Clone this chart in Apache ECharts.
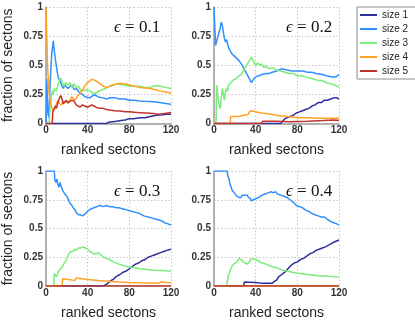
<!DOCTYPE html>
<html>
<head>
<meta charset="utf-8">
<script src="https://cdn.jsdelivr.net/npm/echarts@6/dist/echarts.min.js"></script>
<style>
  html, body { margin: 0; padding: 0; background: #fff; }
  #chart { width: 415px; height: 321px; }
</style>
</head>
<body>
<div id="chart"></div>
<script>
// legend names and colours
const sizeNames = ['size 1', 'size 2', 'size 3', 'size 4', 'size 5']
const sizeColors = ['#2c2f9e', '#3090ff', '#7aec7a', '#ffa226', '#c0342c']
const panelTitles = ['0.1', '0.2', '0.3', '0.4']
const xTicks = [0, 40, 80, 120]
const yTicks = [0, 0.25, 0.5, 0.75, 1]

// epsilon = 0.1  ([ranked secton, fraction])
const eps01Size1 = [[0, 0], [58, 0], [60, 0.01], [64, 0.015], [68, 0.02], [72, 0.025], [76, 0.03], [79, 0.04], [84, 0.04], [90, 0.05], [95, 0.05], [100, 0.06], [106, 0.07], [112, 0.075], [116, 0.08], [120, 0.08]]
const eps01Size2 = [[0, 0], [0.8, 0.38], [1.6, 0.1], [2.6, 0.05], [4, 0.35], [5.5, 0.6], [7, 0.71], [8, 0.62], [9, 0.55], [10, 0.49], [11, 0.43], [12, 0.39], [13.4, 0.37], [15, 0.33], [16.6, 0.3], [18, 0.33], [21, 0.3], [23, 0.32], [25, 0.33], [27, 0.29], [29, 0.3], [32.6, 0.26], [35, 0.25], [37.4, 0.23], [42, 0.22], [45, 0.24], [47, 0.245], [51, 0.225], [55, 0.22], [58, 0.21], [61, 0.22], [66, 0.22], [71, 0.21], [76, 0.21], [80, 0.2], [85, 0.2], [90, 0.193], [95, 0.19], [100, 0.188], [105, 0.185], [109, 0.18], [115, 0.172], [120, 0.165]]
const eps01Size3 = [[0, 0], [3, 0], [4, 0.15], [5, 0.22], [6, 0.28], [7, 0.25], [8, 0.3], [10, 0.28], [12, 0.35], [14, 0.39], [15, 0.38], [17, 0.32], [19, 0.35], [21, 0.33], [23, 0.35], [25, 0.31], [27, 0.34], [29, 0.31], [31, 0.32], [33, 0.29], [36, 0.28], [39, 0.29], [42, 0.28], [45, 0.26], [48, 0.26], [51, 0.28], [54, 0.29], [57, 0.3], [61, 0.32], [65, 0.33], [68, 0.34], [71, 0.335], [76, 0.33], [80, 0.32], [85, 0.32], [90, 0.32], [95, 0.31], [100, 0.31], [103, 0.32], [106, 0.325], [110, 0.32], [115, 0.31], [120, 0.3]]
const eps01Size4 = [[0, 1], [1, 1], [1.5, 0.5], [2, 0.5], [2.5, 0.33], [3, 0.25], [4, 0.2], [5, 0.15], [6, 0.13], [7, 0.11], [8.6, 0.13], [10, 0.17], [11.8, 0.2], [13, 0.17], [15, 0.16], [16.5, 0.19], [18, 0.19], [21, 0.175], [23, 0.2], [24.6, 0.23], [27.8, 0.2], [30, 0.23], [32.6, 0.26], [35.7, 0.3], [39, 0.345], [41, 0.36], [44, 0.38], [47, 0.37], [51.6, 0.345], [55, 0.32], [58, 0.31], [61, 0.32], [64.5, 0.33], [68, 0.34], [71, 0.345], [76, 0.34], [80.6, 0.33], [85, 0.32], [90, 0.31], [95, 0.305], [100, 0.3], [105, 0.29], [109, 0.28], [115, 0.27], [120, 0.26]]
const eps01Size5 = [[0, 0], [6, 0], [6.5, 0.1], [8, 0.1], [9, 0.15], [10, 0.13], [12, 0.2], [13, 0.19], [14, 0.24], [15, 0.22], [16.6, 0.17], [18, 0.18], [19.6, 0.2], [21, 0.18], [23, 0.19], [25, 0.2], [27, 0.19], [29, 0.16], [32.6, 0.14], [35, 0.16], [37, 0.15], [40, 0.14], [42, 0.15], [44, 0.16], [46, 0.15], [48, 0.14], [51, 0.13], [55, 0.13], [58, 0.12], [61, 0.116], [66, 0.11], [71, 0.107], [76, 0.1], [80, 0.1], [85, 0.096], [90, 0.093], [95, 0.09], [100, 0.087], [105, 0.083], [109, 0.08], [114, 0.085], [117, 0.09], [120, 0.095]]

// epsilon = 0.2
const eps02Size1 = [[0, 0], [64, 0], [66, 0.02], [68, 0.04], [70, 0.05], [73, 0.06], [76, 0.07], [79, 0.09], [82, 0.1], [85, 0.11], [88, 0.12], [91, 0.13], [94, 0.15], [97, 0.16], [100, 0.18], [103, 0.18], [106, 0.2], [109, 0.2], [112, 0.21], [115, 0.22], [118, 0.22], [120, 0.21]]
const eps02Size2 = [[0, 1], [1, 1], [1.5, 0.67], [2.6, 0.68], [3.5, 0.74], [4.5, 0.77], [5.5, 0.8], [7, 0.87], [8, 0.84], [9, 0.78], [10, 0.73], [11, 0.7], [12, 0.72], [13, 0.71], [14, 0.65], [15.5, 0.66], [17, 0.6], [18.5, 0.6], [20.5, 0.57], [22, 0.56], [24, 0.54], [27, 0.5], [30, 0.45], [33, 0.4], [36, 0.35], [38, 0.38], [40, 0.4], [43, 0.41], [46, 0.42], [50, 0.43], [53, 0.43], [56, 0.44], [60, 0.45], [65, 0.47], [70, 0.46], [75, 0.45], [80, 0.45], [85, 0.45], [90, 0.44], [94, 0.44], [98, 0.43], [104, 0.42], [108, 0.41], [113, 0.4], [117, 0.4], [120, 0.42]]
const eps02Size3 = [[0, 0], [2, 0], [2.5, 0.33], [3.5, 0.25], [5, 0.15], [6, 0.13], [7, 0.22], [8, 0.3], [9, 0.25], [10, 0.2], [11, 0.27], [12, 0.3], [13, 0.28], [14, 0.33], [16, 0.35], [18, 0.37], [20, 0.38], [22, 0.39], [24, 0.41], [26, 0.42], [28, 0.45], [30, 0.48], [32, 0.51], [34, 0.54], [36, 0.57], [38, 0.53], [40, 0.5], [42, 0.52], [44, 0.5], [46, 0.51], [48, 0.48], [50, 0.49], [53, 0.47], [56, 0.48], [60, 0.46], [64, 0.45], [68, 0.44], [72, 0.43], [76, 0.43], [80, 0.41], [84, 0.41], [88, 0.4], [92, 0.39], [96, 0.38], [100, 0.37], [104, 0.37], [108, 0.35], [112, 0.34], [116, 0.33], [120, 0.31]]
const eps02Size4 = [[0, 0], [15.5, 0], [16, 0.06], [20, 0.06], [24, 0.06], [25, 0.07], [28, 0.07], [30, 0.07], [31, 0.08], [33, 0.08], [34, 0.1], [36, 0.11], [40, 0.1], [45, 0.09], [50, 0.085], [55, 0.08], [60, 0.07], [65, 0.065], [70, 0.06], [75, 0.055], [80, 0.05], [90, 0.05], [100, 0.045], [110, 0.045], [120, 0.045]]
const eps02Size5 = [[0, 0], [46, 0], [46.5, 0.02], [60, 0.02], [61, 0.015], [72, 0.015], [73, 0.02], [90, 0.02], [91, 0.025], [105, 0.025], [106, 0.03], [115, 0.03], [120, 0.025]]

// epsilon = 0.3
const eps03Size1 = [[0, 0], [55, 0], [57, 0.01], [59, 0.02], [61, 0.04], [63, 0.05], [65, 0.06], [67, 0.08], [69, 0.09], [71, 0.1], [74, 0.12], [77, 0.13], [80, 0.15], [83, 0.17], [86, 0.19], [89, 0.2], [92, 0.22], [95, 0.23], [98, 0.25], [101, 0.26], [104, 0.27], [107, 0.28], [110, 0.29], [113, 0.3], [116, 0.31], [120, 0.32]]
const eps03Size2 = [[0, 1], [8, 1], [8.5, 0.92], [9.5, 0.9], [10.5, 0.93], [11.5, 0.88], [12.5, 0.86], [13.5, 0.9], [14.5, 0.87], [15.5, 0.84], [17, 0.83], [18, 0.8], [19, 0.79], [20, 0.78], [21, 0.76], [22, 0.74], [23, 0.72], [24, 0.71], [25, 0.7], [26, 0.68], [27, 0.67], [28, 0.66], [29, 0.64], [30, 0.63], [31, 0.62], [32, 0.63], [33, 0.62], [34, 0.63], [35, 0.61], [36, 0.6], [38, 0.63], [40, 0.65], [43, 0.67], [46, 0.68], [49, 0.69], [52, 0.7], [55, 0.69], [58, 0.7], [61, 0.69], [64, 0.69], [67, 0.68], [70, 0.68], [74, 0.67], [78, 0.66], [82, 0.65], [86, 0.64], [90, 0.63], [94, 0.61], [98, 0.6], [102, 0.59], [106, 0.58], [110, 0.57], [114, 0.55], [117, 0.54], [120, 0.53]]
const eps03Size3 = [[0, 0], [7.5, 0], [8, 0.11], [9, 0.1], [10, 0.08], [11, 0.1], [12, 0.13], [13, 0.12], [14, 0.15], [15, 0.14], [16, 0.17], [17, 0.19], [18, 0.2], [19, 0.22], [20, 0.24], [21, 0.26], [22, 0.28], [23, 0.28], [24, 0.3], [25, 0.31], [26, 0.3], [27, 0.32], [28, 0.32], [29, 0.31], [30, 0.32], [31, 0.33], [32, 0.32], [33, 0.33], [34, 0.33], [35, 0.34], [36, 0.35], [38, 0.33], [40, 0.32], [42, 0.3], [44, 0.29], [46, 0.28], [48, 0.28], [50, 0.29], [51, 0.3], [53, 0.27], [55, 0.25], [58, 0.24], [61, 0.23], [65, 0.21], [70, 0.19], [75, 0.175], [80, 0.165], [85, 0.158], [90, 0.15], [95, 0.145], [100, 0.14], [105, 0.137], [110, 0.135], [115, 0.132], [120, 0.13]]
const eps03Size4 = [[0, 0], [15.5, 0], [16, 0.063], [20, 0.058], [25, 0.052], [28, 0.05], [29, 0.07], [32, 0.066], [35, 0.062], [40, 0.057], [45, 0.052], [50, 0.047], [60, 0.041], [70, 0.035], [80, 0.031], [90, 0.028], [100, 0.026], [108, 0.024], [110, 0.034], [115, 0.03], [120, 0.028]]
const eps03Size5 = [[0, 0], [120, 0]]

// epsilon = 0.4
const eps04Size1 = [[0, 0], [28.5, 0], [29, 0.035], [40, 0.03], [45, 0.025], [56, 0.025], [58, 0.04], [60, 0.05], [62, 0.08], [65, 0.1], [68, 0.12], [71, 0.15], [74, 0.18], [77, 0.2], [80, 0.21], [83, 0.23], [86, 0.24], [89, 0.26], [92, 0.28], [95, 0.29], [98, 0.31], [101, 0.32], [104, 0.33], [107, 0.34], [110, 0.355], [113, 0.37], [116, 0.385], [120, 0.4]]
const eps04Size2 = [[0, 1], [12.5, 1], [13.5, 0.95], [14.5, 0.93], [15.5, 0.88], [16.5, 0.86], [17.5, 0.83], [18.5, 0.84], [19.5, 0.81], [21, 0.8], [22, 0.78], [23, 0.79], [24, 0.77], [25, 0.78], [26, 0.77], [27, 0.79], [28, 0.78], [29, 0.79], [30, 0.78], [32, 0.79], [33, 0.77], [35, 0.76], [36, 0.74], [38, 0.75], [40, 0.76], [43, 0.77], [46, 0.79], [49, 0.8], [52, 0.81], [55, 0.82], [57, 0.81], [59, 0.82], [61, 0.8], [64, 0.79], [67, 0.78], [70, 0.77], [73, 0.75], [76, 0.73], [79, 0.7], [82, 0.69], [85, 0.68], [88, 0.66], [91, 0.65], [94, 0.63], [97, 0.62], [100, 0.61], [103, 0.6], [106, 0.6], [109, 0.58], [112, 0.56], [115, 0.55], [118, 0.54], [120, 0.53]]
const eps04Size3 = [[0, 0], [12, 0], [13, 0.05], [14, 0.1], [15, 0.12], [16, 0.13], [17, 0.17], [18, 0.17], [19, 0.19], [20, 0.2], [22, 0.21], [24, 0.24], [25, 0.24], [26, 0.23], [28, 0.21], [30, 0.2], [32, 0.19], [33, 0.2], [34, 0.21], [35, 0.22], [36, 0.24], [37, 0.245], [40, 0.23], [43, 0.215], [46, 0.2], [50, 0.19], [55, 0.17], [60, 0.16], [65, 0.14], [70, 0.13], [75, 0.12], [80, 0.11], [90, 0.1], [100, 0.09], [110, 0.085], [120, 0.075]]
const eps04Size4 = [[0, 0], [120, 0]]
const eps04Size5 = [[0, 0], [120, 0]]

const panels = [
  [eps01Size1, eps01Size2, eps01Size3, eps01Size4, eps01Size5],
  [eps02Size1, eps02Size2, eps02Size3, eps02Size4, eps02Size5],
  [eps03Size1, eps03Size2, eps03Size3, eps03Size4, eps03Size5],
  [eps04Size1, eps04Size2, eps04Size3, eps04Size4, eps04Size5]
]

const grids = [
  { left: 46, top: 7, width: 125, height: 116.5 },
  { left: 214, top: 7, width: 125, height: 116.5 },
  { left: 46, top: 171, width: 125, height: 117 },
  { left: 214, top: 171, width: 125, height: 117 }
]

const sans = 'Liberation Sans, Arial, sans-serif'
const gridLine = { show: true, lineStyle: { color: '#c8c8c8', type: [1.5, 2], width: 1 } }
const axisLine = { show: true, lineStyle: { color: '#9c9c9c', width: 1.5 } }

const chart = echarts.init(document.getElementById('chart'), null, { renderer: 'canvas' })

const xAxes = grids.map((g, i) => ({
  type: 'value',
  gridIndex: i,
  min: xTicks[0],
  max: xTicks[xTicks.length - 1],
  interval: xTicks[1] - xTicks[0],
  name: 'ranked sectons',
  nameLocation: 'middle',
  nameGap: 20,
  nameTextStyle: { fontFamily: sans, fontSize: 14, color: '#222' },
  axisLine: axisLine,
  axisTick: { show: false },
  splitLine: gridLine,
  axisLabel: { fontFamily: sans, fontSize: 10, fontWeight: 'bold', color: '#333', margin: 2 }
}))

const yAxes = grids.map((g, i) => ({
  type: 'value',
  gridIndex: i,
  min: yTicks[0],
  max: yTicks[yTicks.length - 1],
  interval: yTicks[1] - yTicks[0],
  name: i % 2 === 0 ? 'fraction of sectons' : '',
  nameLocation: 'middle',
  nameGap: 31,
  nameTextStyle: { fontFamily: sans, fontSize: 14, color: '#222' },
  axisLine: axisLine,
  axisTick: { show: false },
  splitLine: gridLine,
  axisLabel: { fontFamily: sans, fontSize: 10, fontWeight: 'bold', color: '#333', margin: 3 }
}))

const titles = panelTitles.map((t, i) => ({
  text: '{e|ϵ} = ' + t,
  left: grids[i].left + (i % 2 === 0 ? 63 : 67),
  top: grids[i].top + 7,
  textStyle: {
    fontFamily: 'Liberation Serif, DejaVu Serif, serif',
    fontSize: 17,
    fontWeight: 'normal',
    color: '#111',
    rich: { e: { fontFamily: 'Liberation Serif, DejaVu Serif, serif', fontSize: 17, fontStyle: 'italic', color: '#111' } }
  }
}))

const series = []
panels.forEach((panel, p) => {
  panel.forEach((data, s) => {
    series.push({
      name: sizeNames[s],
      type: 'line',
      xAxisIndex: p,
      yAxisIndex: p,
      data: data,
      symbol: 'none',
      lineStyle: { width: 1.5, color: sizeColors[s] },
      itemStyle: { color: sizeColors[s] }
    })
  })
})

chart.setOption({
  animation: false,
  backgroundColor: '#fff',
  title: titles,
  legend: {
    data: sizeNames,
    orient: 'vertical',
    left: 357,
    top: 7,
    padding: [2, 8, 2, 3],
    itemGap: 2,
    itemWidth: 17,
    itemHeight: 2,
    icon: 'rect',
    borderColor: '#8c8c8c',
    borderWidth: 1,
    textStyle: { fontFamily: sans, fontSize: 10, color: '#222', lineHeight: 12 }
  },
  grid: grids,
  xAxis: xAxes,
  yAxis: yAxes,
  series: series
})
</script>
</body>
</html>
